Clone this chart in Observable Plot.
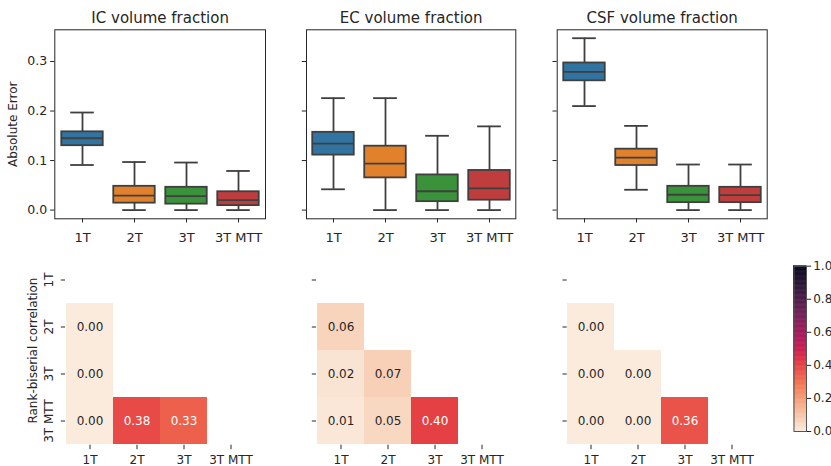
<!DOCTYPE html>
<html><head><meta charset="utf-8">
<script src="https://cdn.jsdelivr.net/npm/d3@7"></script>
<script src="https://cdn.jsdelivr.net/npm/@observablehq/plot@0.6"></script>
<style>
html,body{margin:0;padding:0;background:#fff;}
#chart{position:relative;width:831px;height:466px;overflow:hidden;font-family:"DejaVu Sans";}
#chart svg{position:absolute;}
</style></head><body><div id="chart"></div>
<script>
// ---------- data ----------
const methods = ["1T", "2T", "3T", "3T MTT"];
const panelTitles = ["IC volume fraction", "EC volume fraction", "CSF volume fraction"];
const boxYLabel = "Absolute Error";
const heatYLabel = "Rank-biserial correlation";
const yTicks = [0, 0.1, 0.2, 0.3];
const colorbarTicks = [0, 0.2, 0.4, 0.6, 0.8, 1.0];

// box-plot summaries per panel (IC, EC, CSF), per method
const whiskerLow  = [[0.091, 0.000, 0.000, 0.000], [0.042, 0.000, 0.000, 0.000], [0.210, 0.041, 0.000, 0.000]];
const quartile1   = [[0.130, 0.014, 0.012, 0.009], [0.111, 0.065, 0.017, 0.020], [0.261, 0.090, 0.015, 0.015]];
const medians     = [[0.145, 0.029, 0.028, 0.020], [0.134, 0.094, 0.038, 0.044], [0.279, 0.106, 0.031, 0.030]];
const quartile3   = [[0.158, 0.048, 0.046, 0.037], [0.157, 0.129, 0.071, 0.080], [0.297, 0.123, 0.048, 0.046]];
const whiskerHigh = [[0.197, 0.097, 0.096, 0.079], [0.226, 0.226, 0.150, 0.169], [0.347, 0.170, 0.092, 0.092]];
const boxColors = ["#3274a1", "#e1812c", "#3a923a", "#c03d3e"];

// rank-biserial correlation matrices (rows x cols = methods), lower triangle, null = empty
const icCorr  = [[null, null, null, null], [0.00, null, null, null], [0.00, null, null, null], [0.00, 0.38, 0.33, null]];
const ecCorr  = [[null, null, null, null], [0.06, null, null, null], [0.02, 0.07, null, null], [0.01, 0.05, 0.40, null]];
const csfCorr = [[null, null, null, null], [0.00, null, null, null], [0.00, 0.00, null, null], [0.00, 0.00, 0.36, null]];
const corrMatrices = [icCorr, ecCorr, csfCorr];

// rocket_r colormap stops
const cmapStops  = [0, 0.143, 0.286, 0.429, 0.5, 0.571, 0.714, 0.857, 1];
const cmapColors = ["#faebdd", "#f6b48f", "#f37651", "#e13342", "#cb1b4f", "#ad1759", "#701f57", "#35193e", "#03051a"];

// ---------- drawing ----------
const chart = document.getElementById("chart");
const ink = "#262626";
const edge = "#3f3f3f";
const baseStyle = {fontFamily: "DejaVu Sans", fontSize: "12px", color: ink, background: "transparent", overflow: "visible"};
const colorScale = {type: "linear", domain: cmapStops, range: cmapColors, interpolate: "rgb"};
function place(svg, left, top) {
  svg.style.left = left + "px";
  svg.style.top = top + "px";
  chart.appendChild(svg);
}

function boxPanel(p, width, ml, mr) {
  const rows = methods.map((m, j) => ({method: m, lo: whiskerLow[p][j], q1: quartile1[p][j], med: medians[p][j], q3: quartile3[p][j], hi: whiskerHigh[p][j]}));
  const bw = (width - ml - mr) / methods.length;
  const bi = bw * 0.1, ci = bw * 0.27;
  const lw = 1.8;
  const marks = [
    Plot.ruleX(rows, {x: "method", y1: "lo", y2: "q1", stroke: edge, strokeWidth: lw}),
    Plot.ruleX(rows, {x: "method", y1: "q3", y2: "hi", stroke: edge, strokeWidth: lw}),
    Plot.barY(rows, {x: "method", y1: "q1", y2: "q3", fill: "method", stroke: edge, strokeWidth: lw, insetLeft: bi, insetRight: bi}),
    Plot.tickY(rows, {x: "method", y: "med", stroke: edge, strokeWidth: lw, insetLeft: bi, insetRight: bi}),
    Plot.tickY(rows, {x: "method", y: "lo", stroke: edge, strokeWidth: lw, insetLeft: ci, insetRight: ci}),
    Plot.tickY(rows, {x: "method", y: "hi", stroke: edge, strokeWidth: lw, insetLeft: ci, insetRight: ci}),
    Plot.frame({stroke: ink, strokeWidth: 1}),
    Plot.axisX({tickSize: 4.2, tickPadding: 9.5, label: null, fontSize: 13}),
    Plot.axisY({ticks: yTicks, tickSize: 4.2, tickPadding: 3.5, tickFormat: p === 0 ? d3.format(".1f") : () => "", label: null, fontSize: 12.5}),
    Plot.text([panelTitles[p]], {text: d => d, frameAnchor: "top", lineAnchor: "bottom", dy: -7, fontSize: 15, fill: ink})
  ];
  if (p === 0) marks.push(Plot.text([boxYLabel], {text: d => d, frameAnchor: "left", textAnchor: "middle", rotate: -90, dx: -41.5, fontSize: 12, fill: ink}));
  return Plot.plot({
    width, height: 250, marginLeft: ml, marginRight: mr, marginTop: 29.3, marginBottom: 31.7,
    x: {domain: methods, padding: 0},
    y: {domain: [-0.0176, 0.364]},
    color: {domain: methods, range: boxColors},
    style: baseStyle,
    marks
  });
}

function heatPanel(p, width, ml, mr) {
  const cells = [];
  corrMatrices[p].forEach((row, i) => row.forEach((v, j) => { if (v != null) cells.push({row: methods[i], col: methods[j], v}); }));
  const fmt = d3.format(".2f");
  const marks = [
    Plot.cell(cells, {x: "col", y: "row", fill: "v"}),
    Plot.text(cells.filter(d => d.v < 0.25), {x: "col", y: "row", text: d => fmt(d.v), fill: ink, fontSize: 12}),
    Plot.text(cells.filter(d => d.v >= 0.25), {x: "col", y: "row", text: d => fmt(d.v), fill: "white", fontSize: 12}),
    Plot.axisX({tickSize: 4.5, tickPadding: 5.5, label: null, fontSize: 12}),
    Plot.axisY({tickSize: 4.2, tickFormat: () => "", label: null})
  ];
  if (p === 0) {
    marks.push(Plot.text(methods, {y: d => d, text: d => d, frameAnchor: "left", textAnchor: "middle", rotate: -90, dx: -16, fontSize: 12, fill: ink}));
    marks.push(Plot.text([heatYLabel], {text: d => d, frameAnchor: "left", textAnchor: "middle", rotate: -90, dx: -32.5, fontSize: 12, fill: ink}));
  }
  return Plot.plot({
    width, height: 216, marginLeft: ml, marginRight: mr, marginTop: 5.4, marginBottom: 21.3,
    x: {domain: methods, padding: 0},
    y: {domain: methods, padding: 0},
    color: colorScale,
    style: baseStyle,
    marks
  });
}

function colorbar() {
  const step = 0.005;
  const stops = d3.range(0, 1, step);
  return Plot.plot({
    width: 51, height: 216, marginLeft: 13.5, marginRight: 25, marginTop: 15.7, marginBottom: 35,
    y: {domain: [0, 1]},
    color: colorScale,
    style: baseStyle,
    marks: [
      Plot.rect(stops, {y1: d => d, y2: d => d + step, fill: d => d + step / 2, stroke: d => d + step / 2, strokeWidth: 0.5}),
      Plot.frame({stroke: "#555", strokeWidth: 1}),
      Plot.axisY({anchor: "right", ticks: colorbarTicks, tickFormat: d3.format(".1f"), tickSize: 4.2, tickPadding: 2.5, label: null, fontSize: 12})
    ]
  });
}

place(boxPanel(0, 280, 54.3, 15), 0, 0);
place(boxPanel(1, 250, 26, 14.7), 280, 0);
place(boxPanel(2, 250, 26.7, 13.3), 530, 0);
place(heatPanel(0, 280, 65, 26), 0, 250);
place(heatPanel(1, 250, 36, 25), 280, 250);
place(heatPanel(2, 250, 36.7, 24.3), 530, 250);
place(colorbar(), 780, 250);
</script>
</body></html>
